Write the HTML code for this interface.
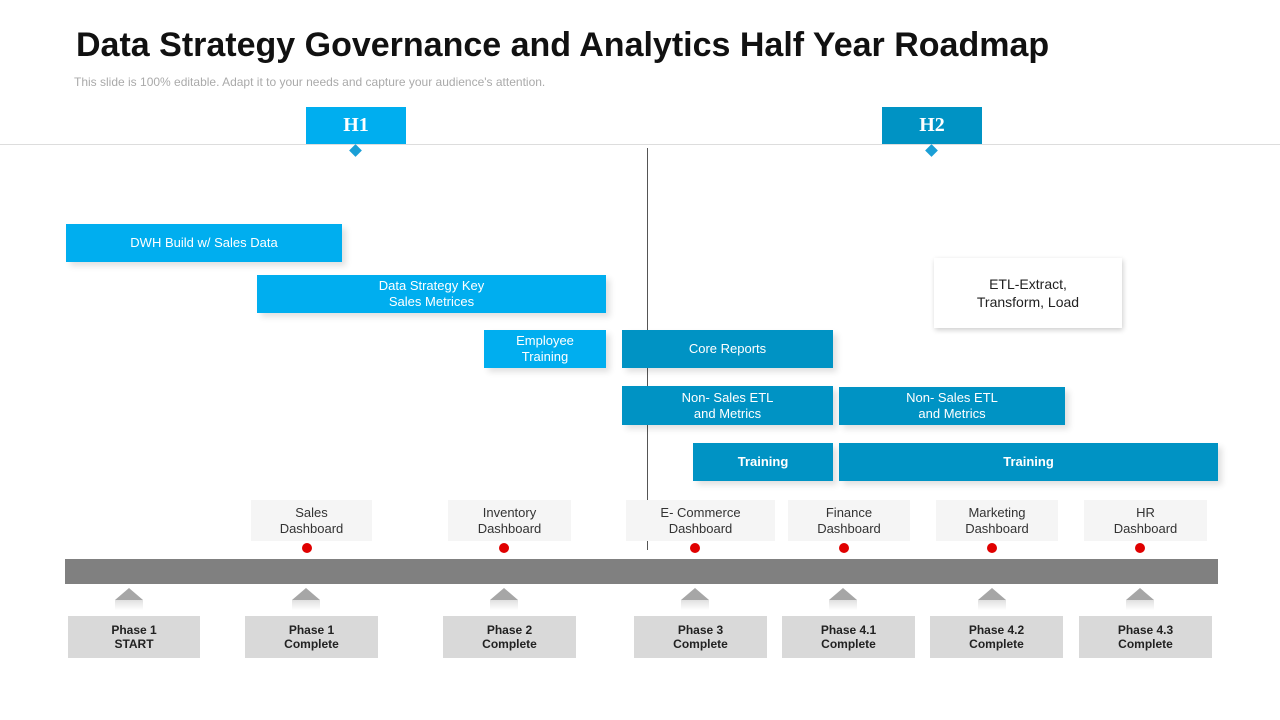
<!DOCTYPE html>
<html><head><meta charset="utf-8"><style>
body{margin:0;width:1280px;height:720px;background:#fff;position:relative;overflow:hidden;font-family:"Liberation Sans",sans-serif}
div{position:absolute;box-sizing:border-box}
.bar{display:flex;align-items:center;justify-content:center;text-align:center;color:#fff;font-size:13px;line-height:16px;box-shadow:4px 4px 6px rgba(0,0,0,0.12)}
.l{background:#00aeef}.d{background:#0093c4}
.hb{background:#00aeef;color:#fff;font-family:"Liberation Serif",serif;font-weight:bold;font-size:20px;display:flex;align-items:center;justify-content:center}
.dia{width:9px;height:9px;background:#1a9fd6;transform:rotate(45deg)}
.dash{background:#f5f5f5;font-size:13px;line-height:16px;color:#333;display:flex;align-items:center;justify-content:center;text-align:center}
.dot{width:10px;height:10px;border-radius:50%;background:#e00000}
.tri{width:0;height:0;border-left:14px solid transparent;border-right:14px solid transparent;border-bottom:12px solid #a6a6a6}
.trb{width:28px;height:10px;background:linear-gradient(#e0e0e0,#fff)}
.ph{background:#d9d9d9;font-size:12px;font-weight:bold;line-height:14px;color:#222;display:flex;align-items:center;justify-content:center;text-align:center}
</style></head><body>
<div style="left:76px;top:26px;font-size:34px;font-weight:bold;color:#111;white-space:nowrap">Data Strategy Governance and Analytics Half Year Roadmap</div>
<div style="left:74px;top:75px;font-size:12px;color:#aaa;white-space:nowrap">This slide is 100% editable. Adapt it to your needs and capture your audience's attention.</div>
<div style="left:0;top:144px;width:1280px;height:1px;background:#ddd"></div>
<div class="hb" style="left:306px;top:107px;width:100px;height:37px">H1</div>
<div class="hb" style="left:882px;top:107px;width:100px;height:37px;background:#0093c4">H2</div>
<div class="dia" style="left:351px;top:146px"></div>
<div class="dia" style="left:927px;top:146px"></div>
<div style="left:647px;top:148px;width:1px;height:402px;background:#555"></div>

<div class="bar l" style="left:66px;top:224px;width:276px;height:38px">DWH Build w/ Sales Data</div>
<div class="bar l" style="left:257px;top:275px;width:349px;height:38px">Data Strategy Key<br>Sales Metrices</div>
<div class="bar l" style="left:484px;top:330px;width:122px;height:38px">Employee<br>Training</div>
<div class="bar d" style="left:622px;top:330px;width:211px;height:38px">Core Reports</div>
<div class="bar d" style="left:622px;top:386px;width:211px;height:39px">Non- Sales ETL<br>and Metrics</div>
<div class="bar d" style="left:839px;top:387px;width:226px;height:38px">Non- Sales ETL<br>and Metrics</div>
<div class="bar d" style="left:693px;top:443px;width:140px;height:38px;font-weight:bold">Training</div>
<div class="bar d" style="left:839px;top:443px;width:379px;height:38px;font-weight:bold">Training</div>
<div style="left:934px;top:258px;width:188px;height:70px;background:#fff;box-shadow:1px 2px 5px rgba(0,0,0,0.2);display:flex;align-items:center;justify-content:center;text-align:center;font-size:14px;line-height:18px;color:#222">ETL-Extract,<br>Transform, Load</div>

<div class="dash" style="left:251px;top:500px;width:121px;height:41px">Sales<br>Dashboard</div>
<div class="dash" style="left:448px;top:500px;width:123px;height:41px">Inventory<br>Dashboard</div>
<div class="dash" style="left:626px;top:500px;width:149px;height:41px">E- Commerce<br>Dashboard</div>
<div class="dash" style="left:788px;top:500px;width:122px;height:41px">Finance<br>Dashboard</div>
<div class="dash" style="left:936px;top:500px;width:122px;height:41px">Marketing<br>Dashboard</div>
<div class="dash" style="left:1084px;top:500px;width:123px;height:41px">HR<br>Dashboard</div>
<div class="dot" style="left:302px;top:543px"></div>
<div class="dot" style="left:499px;top:543px"></div>
<div class="dot" style="left:690px;top:543px"></div>
<div class="dot" style="left:839px;top:543px"></div>
<div class="dot" style="left:987px;top:543px"></div>
<div class="dot" style="left:1135px;top:543px"></div>

<div style="left:65px;top:559px;width:1153px;height:25px;background:#808080"></div>

<div class="tri" style="left:115px;top:588px"></div><div class="trb" style="left:115px;top:600px"></div>
<div class="tri" style="left:292px;top:588px"></div><div class="trb" style="left:292px;top:600px"></div>
<div class="tri" style="left:490px;top:588px"></div><div class="trb" style="left:490px;top:600px"></div>
<div class="tri" style="left:681px;top:588px"></div><div class="trb" style="left:681px;top:600px"></div>
<div class="tri" style="left:829px;top:588px"></div><div class="trb" style="left:829px;top:600px"></div>
<div class="tri" style="left:978px;top:588px"></div><div class="trb" style="left:978px;top:600px"></div>
<div class="tri" style="left:1126px;top:588px"></div><div class="trb" style="left:1126px;top:600px"></div>

<div class="ph" style="left:68px;top:616px;width:132px;height:42px">Phase 1<br>START</div>
<div class="ph" style="left:245px;top:616px;width:133px;height:42px">Phase 1<br>Complete</div>
<div class="ph" style="left:443px;top:616px;width:133px;height:42px">Phase 2<br>Complete</div>
<div class="ph" style="left:634px;top:616px;width:133px;height:42px">Phase 3<br>Complete</div>
<div class="ph" style="left:782px;top:616px;width:133px;height:42px">Phase 4.1<br>Complete</div>
<div class="ph" style="left:930px;top:616px;width:133px;height:42px">Phase 4.2<br>Complete</div>
<div class="ph" style="left:1079px;top:616px;width:133px;height:42px">Phase 4.3<br>Complete</div>
</body></html>
